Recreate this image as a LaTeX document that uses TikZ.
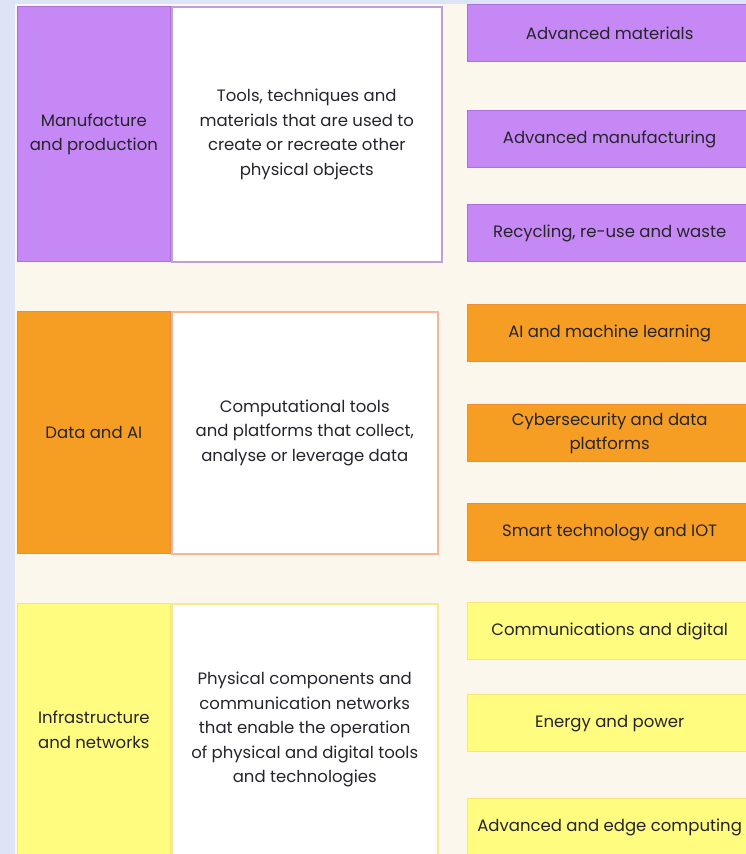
\documentclass[tikz,border=0pt]{standalone}
\usepackage{fontspec}
\setmainfont{Poppins}
\usetikzlibrary{positioning}

\definecolor{sidebar}{RGB}{220,228,245}
\definecolor{paper}{RGB}{252,247,236}
\definecolor{ink}{RGB}{38,36,44}
\definecolor{purp}{RGB}{197,136,245}
\definecolor{purpline}{RGB}{172,112,222}
\definecolor{purpedge}{RGB}{190,160,214}
\definecolor{orng}{RGB}{246,157,36}
\definecolor{orngline}{RGB}{240,140,50}
\definecolor{orngedge}{RGB}{250,180,152}
\definecolor{yell}{RGB}{255,252,128}
\definecolor{yellline}{RGB}{250,228,120}
\definecolor{yelledge}{RGB}{252,232,140}

\begin{document}
\begin{tikzpicture}[x=1pt, y=-1pt, node distance=0pt,
    every node/.style={font=\fontsize{16.5}{24.5}\selectfont, text=ink, align=center, inner sep=0pt},
    cat/.style={draw, line width=1.3pt, minimum width=153pt},
    desc/.style={draw, fill=white, line width=1.5pt, anchor=north west},
    tech/.style={draw, line width=1.3pt, minimum width=284pt, minimum height=57pt, anchor=north west}]

    \useasboundingbox (0,0) rectangle (746,854);
    \fill[sidebar] (0,0) rectangle (746,854);
    \fill[paper] (15,4) rectangle (746,854);

    % manufacture and production
    \node [desc, draw=purpedge, minimum width=270pt, minimum height=255pt] (mfgtext) at (171,6)
        {Tools, techniques and\\materials that are used to\\create or recreate other\\physical objects};
    \node [cat, fill=purp, draw=purpline, minimum height=255pt, left=0pt of mfgtext] (mfg) {Manufacture\\and production};

    \node [tech, fill=purp, draw=purpline] (matl) at (467,4) {Advanced materials};
    \node [tech, fill=purp, draw=purpline] (manu) at (467,110) {Advanced manufacturing};
    \node [tech, fill=purp, draw=purpline] (recy) at (467,204) {Recycling, re-use and waste};

    % data and AI
    \node [desc, draw=orngedge, minimum width=266pt, minimum height=242pt] (datatext) at (171,311)
        {Computational tools\\and platforms that collect,\\analyse or leverage data};
    \node [cat, fill=orng, draw=orngline, minimum height=242pt, left=0pt of datatext] (data) {Data and AI};

    \node [tech, fill=orng, draw=orngline] (ai) at (467,304) {AI and machine learning};
    \node [tech, fill=orng, draw=orngline] (cyber) at (467,404) {Cybersecurity and data\\platforms};
    \node [tech, fill=orng, draw=orngline] (smart) at (467,503) {Smart technology and IOT};

    % infrastructure and networks
    \node [desc, draw=yelledge, minimum width=266pt, minimum height=252pt] (infratext) at (171,603)
        {Physical components and\\communication networks\\that enable the operation\\of physical and digital tools\\and technologies};
    \node [cat, fill=yell, draw=yellline, minimum height=252pt, left=0pt of infratext] (infra) {Infrastructure\\and networks};

    \node [tech, fill=yell, draw=yellline] (comms) at (467,602) {Communications and digital};
    \node [tech, fill=yell, draw=yellline] (power) at (467,694) {Energy and power};
    \node [tech, fill=yell, draw=yellline] (edge) at (467,798) {Advanced and edge computing};

\end{tikzpicture}
\end{document}
